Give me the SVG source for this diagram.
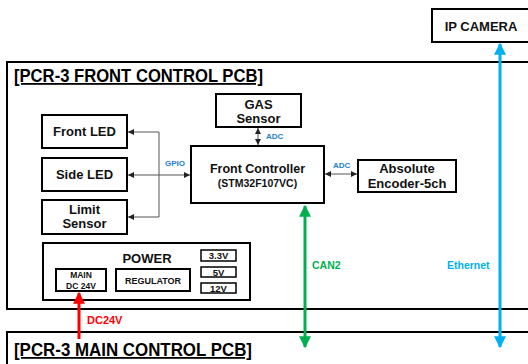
<svg xmlns="http://www.w3.org/2000/svg" width="528" height="364" viewBox="0 0 528 364">
<style>
.box{fill:#fff;stroke:#000;stroke-width:2}
.thin{fill:#fff;stroke:#000;stroke-width:1.5}
.t{font-family:"Liberation Sans",Arial,sans-serif;font-weight:bold;fill:#111;text-anchor:middle}
.title{font-family:"Liberation Sans",Arial,sans-serif;font-weight:bold;font-size:18px;fill:#000;text-decoration:underline}
.lbl{font-family:"Liberation Sans",Arial,sans-serif;font-weight:bold;font-size:8px;fill:#1f80d0}
.g{stroke:#555;stroke-width:1;fill:none}
</style>
<defs>
<marker id="ah" viewBox="0 0 6 6" refX="6" refY="3" markerWidth="6" markerHeight="6" orient="auto-start-reverse" markerUnits="userSpaceOnUse"><path d="M0,0 L6,3 L0,6 z" fill="#222"/></marker>
<marker id="ag" viewBox="0 0 10 10" refX="9" refY="5" markerWidth="4" markerHeight="4" orient="auto-start-reverse"><path d="M0,0 L10,5 L0,10 z" fill="#00b050"/></marker>
<marker id="ab" viewBox="0 0 10 10" refX="9" refY="5" markerWidth="4" markerHeight="4" orient="auto-start-reverse"><path d="M0,0 L10,5 L0,10 z" fill="#00b0f0"/></marker>
<marker id="ar" viewBox="0 0 10 10" refX="9" refY="5" markerWidth="4" markerHeight="4" orient="auto"><path d="M0,0 L10,5 L0,10 z" fill="#ff0000"/></marker>
</defs>

<g id="front-pcb">
<rect x="7" y="62" width="530" height="247" fill="#fff" stroke="#000" stroke-width="2"/>
<text class="title" x="14" y="82" textLength="249" lengthAdjust="spacingAndGlyphs">[PCR-3 FRONT CONTROL PCB]</text>
</g>
<g id="main-pcb">
<rect x="7" y="332" width="530" height="40" fill="#fff" stroke="#000" stroke-width="2"/>
<text class="title" x="14" y="356" textLength="238" lengthAdjust="spacingAndGlyphs">[PCR-3 MAIN CONTROL PCB]</text>
</g>
<g id="ip-camera">
<rect x="432" y="9" width="100" height="33" class="box"/>
<text class="t" x="481" y="31" font-size="13">IP CAMERA</text>
</g>
<g id="front-led">
<rect x="42" y="115" width="85" height="33" class="box"/>
<text class="t" x="84.5" y="136" font-size="13">Front LED</text>
</g>
<g id="side-led">
<rect x="42" y="158" width="85" height="33" class="box"/>
<text class="t" x="84.5" y="179" font-size="13">Side LED</text>
</g>
<g id="limit-sensor">
<rect x="42" y="200" width="85" height="34" class="box"/>
<text class="t" x="84.5" y="214" font-size="13">Limit</text>
<text class="t" x="84.5" y="228" font-size="13">Sensor</text>
</g>
<g id="gas-sensor">
<rect x="216" y="94" width="85" height="33" class="box"/>
<text class="t" x="258.5" y="109" font-size="13">GAS</text>
<text class="t" x="258.5" y="123" font-size="13">Sensor</text>
</g>
<g id="front-controller">
<rect x="191" y="146" width="133" height="57" class="box"/>
<text class="t" x="257.5" y="173" font-size="12.5">Front Controller</text>
<text class="t" x="257.5" y="187" font-size="10.5">(STM32F107VC)</text>
</g>
<g id="encoder">
<rect x="358" y="160" width="98" height="32" class="box"/>
<text class="t" x="407" y="173" font-size="13">Absolute</text>
<text class="t" x="407" y="188" font-size="13">Encoder-5ch</text>
</g>
<g id="power">
<rect x="43" y="243" width="207" height="57" class="box"/>
<text class="t" x="147" y="263" font-size="13">POWER</text>
<rect x="56" y="269" width="50" height="22" class="box"/>
<text class="t" x="81" y="278" font-size="8.5">MAIN</text>
<text class="t" x="81" y="289" font-size="8.5">DC 24V</text>
<rect x="116" y="269" width="74" height="22" class="box"/>
<text class="t" x="153" y="284" font-size="9">REGULATOR</text>
<rect x="201" y="250" width="35" height="11" class="thin"/>
<text class="t" x="218.5" y="259" font-size="9.5">3.3V</text>
<rect x="201" y="267" width="35" height="10" class="thin"/>
<text class="t" x="218.5" y="275.5" font-size="9.5">5V</text>
<rect x="201" y="283" width="35" height="10" class="thin"/>
<text class="t" x="218.5" y="291.5" font-size="9.5">12V</text>
</g>

<g id="connectors">
<path class="g" d="M159,132 V217"/>
<line class="g" x1="159" y1="132" x2="128" y2="132" marker-end="url(#ah)"/>
<line class="g" x1="159" y1="217" x2="128" y2="217" marker-end="url(#ah)"/>
<line class="g" x1="128" y1="175" x2="190" y2="175" marker-start="url(#ah)" marker-end="url(#ah)"/>
<line class="g" x1="258" y1="128" x2="258" y2="145" marker-start="url(#ah)" marker-end="url(#ah)"/>
<line class="g" x1="325" y1="174" x2="357" y2="174" marker-start="url(#ah)" marker-end="url(#ah)"/>
<line x1="305" y1="206" x2="305" y2="347" stroke="#00b050" stroke-width="3" marker-start="url(#ag)" marker-end="url(#ag)"/>
<line x1="500" y1="44" x2="500" y2="347" stroke="#00b0f0" stroke-width="3" marker-start="url(#ab)" marker-end="url(#ab)"/>
<line x1="79" y1="339" x2="79" y2="293" stroke="#ff0000" stroke-width="3" marker-end="url(#ar)"/>
<text class="lbl" x="165" y="166">GPIO</text>
<text class="lbl" x="266" y="139">ADC</text>
<text class="lbl" x="333" y="168">ADC</text>
<text font-family="Liberation Sans,Arial,sans-serif" font-weight="bold" font-size="10.5" fill="#00b050" x="312" y="269">CAN2</text>
<text font-family="Liberation Sans,Arial,sans-serif" font-weight="bold" font-size="10.5" fill="#00b0f0" x="447" y="269">Ethernet</text>
<text font-family="Liberation Sans,Arial,sans-serif" font-weight="bold" font-size="11" fill="#ff0000" x="87" y="324">DC24V</text>
</g>
</svg>
